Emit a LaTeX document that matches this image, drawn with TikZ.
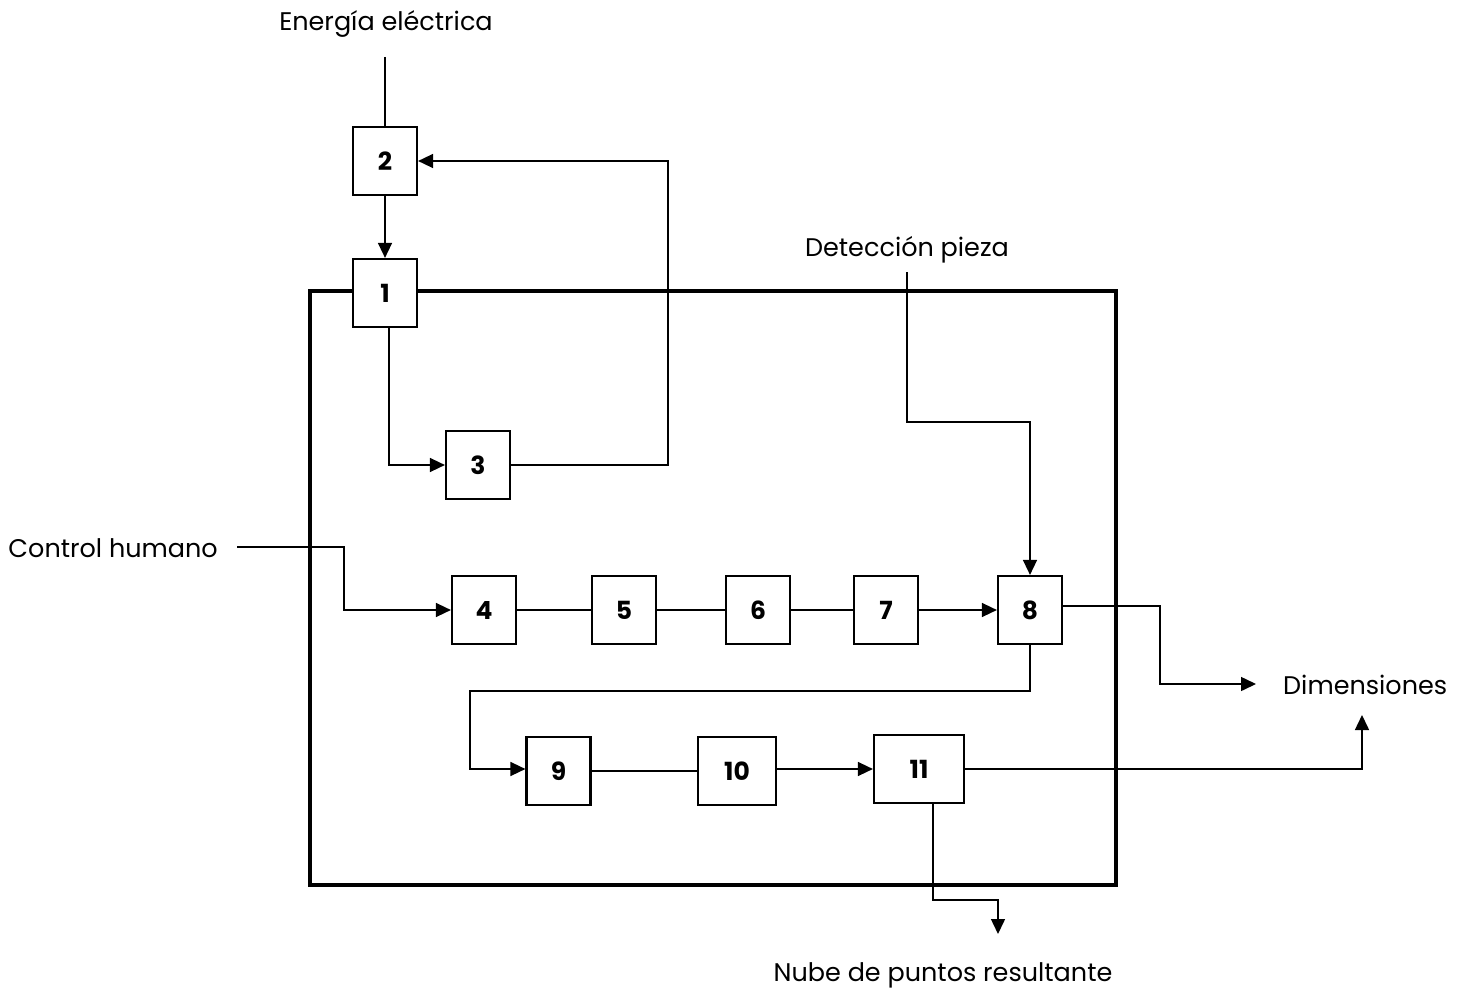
\documentclass[tikz,border=0pt]{standalone}
\usepackage{fontspec}
\setmainfont{Poppins}
\usetikzlibrary{arrows.meta}
\begin{document}
\begin{tikzpicture}[x=1pt,y=-1pt,
  blk/.style={draw,line width=2.2pt,minimum width=64pt,minimum height=68pt,inner sep=0pt,font=\fontsize{25}{27}\selectfont\bfseries},
  lbl/.style={font=\fontsize{25.5}{28}\selectfont,inner sep=0pt},
  conn/.style={line width=1.5pt},
  arr/.style={conn,-{Triangle[length=15pt,width=14pt]}}]
\useasboundingbox (0,0) rectangle (1464,995);
% outer frame
\draw[line width=3.2pt] (310,291) rectangle (1116,885);
% blocks
\node[blk,fill=white] (b2) at (385,161) {2};
\node[blk,fill=white] (b1) at (385,293) {1};
\node[blk] (b3) at (478,465) {3};
\node[blk] (b4) at (484,610) {4};
\node[blk] (b5) at (624,610) {5};
\node[blk] (b6) at (758,610) {6};
\node[blk] (b7) at (886,610) {7};
\node[blk] (b8) at (1030,610) {8};
\node[blk] (b9) at (558.5,771) {9};
\node[blk,minimum width=78pt] (b10) at (737,771) {10};
\node[blk,minimum width=90pt] (b11) at (919,769) {11};
% labels
\node[lbl] (energia) at (386,24) {Energía eléctrica};
\node[lbl] (deteccion) at (907,250) {Detección pieza};
\node[lbl,anchor=east] (control) at (218,548) {Control humano};
\node[lbl,anchor=west] (dim) at (1283,685) {Dimensiones};
\node[lbl] (nube) at (943,975) {Nube de puntos resultante};
% coordinates
\coordinate (eTop) at (385,57);
\coordinate (dTop) at (907,272);
\coordinate (cStart) at (237,547);
\coordinate (dimIn) at (1256,684);
\coordinate (dimUp) at (1362,715);
\coordinate (nubeIn) at (998,934);
% connectors
\draw[conn] (eTop) -- (b2.north);
\draw[arr] (b2.south) -- (b1.north);
\draw[arr] (b1.south -| 389,0) |- (b3.west);
\draw[arr] (b3.east) -- (b3.east -| 668,0) |- (b2.east);
\draw[arr] (dTop) |- (1030,422) -- (b8.north);
\draw[arr] (cStart) -- (344,547) |- (b4.west);
\draw[conn] (b4) -- (b5);
\draw[conn] (b5) -- (b6);
\draw[conn] (b6) -- (b7);
\draw[arr] (b7) -- (b8);
\draw[arr] (b8.east |- 0,606) -- (1160,606) |- (dimIn);
\draw[arr] (b8.south) -- (1030,691) -| (470,769) -- (b9.west |- 0,769);
\draw[conn] (b9) -- (b10);
\draw[arr] (b10.east |- b11) -- (b11.west);
\draw[arr] (b11.east) -| (dimUp);
\draw[arr] (b11.south -| 933,0) -- (933,900) -| (nubeIn);
\end{tikzpicture}
\end{document}
